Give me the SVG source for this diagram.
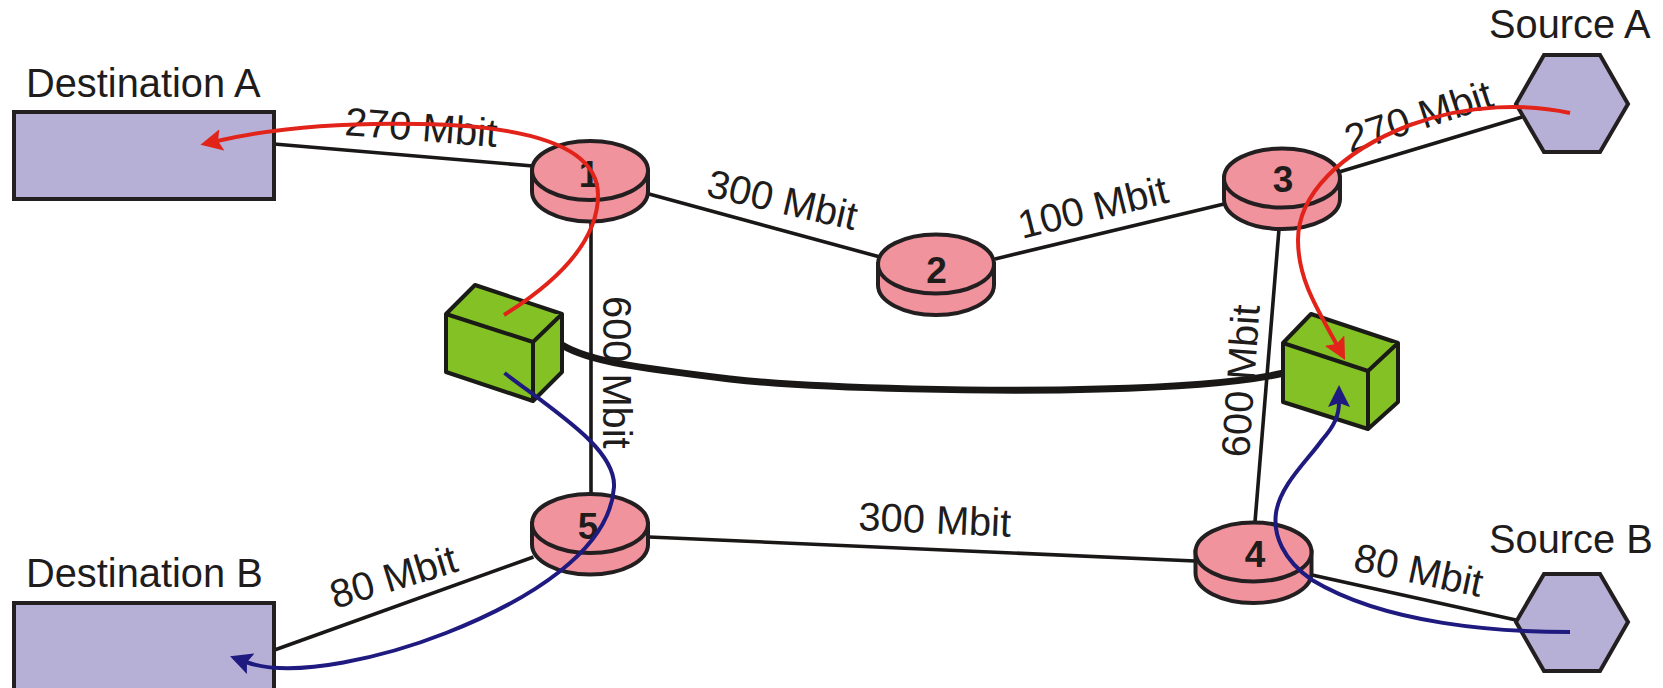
<svg xmlns="http://www.w3.org/2000/svg" width="1663" height="688" viewBox="0 0 1663 688">
<style>
text{font-family:"Liberation Sans",Arial,sans-serif;font-size:39.800px;fill:#1f1c1c}
.num{font-weight:bold;font-size:37px;text-anchor:middle}
.link{fill:none;stroke:#1a1717;stroke-width:3.6}
.shape{fill:#b7b0d6;stroke:#231f20;stroke-width:4;stroke-linejoin:miter}
.disc{fill:#f0939d;stroke:#231f20;stroke-width:4}
.box{fill:#84c125;stroke:#1a1a16;stroke-width:4;stroke-linejoin:round}
.flow{fill:none;stroke-width:4}
</style>
<defs>
<marker id="headRed" markerUnits="userSpaceOnUse" viewBox="0 0 22 22" markerWidth="22" markerHeight="22" refX="5" refY="11" orient="auto"><path d="M0 0L22 11L0 22L4 11Z" fill="#e2231a"/></marker>
<marker id="headBlue" markerUnits="userSpaceOnUse" viewBox="0 0 22 22" markerWidth="22" markerHeight="22" refX="5" refY="11" orient="auto"><path d="M0 0L22 11L0 22L4 11Z" fill="#1f1a80"/></marker>
<g id="discShape"><path class="disc" d="M-58 0V21A58 30 0 0 0 58 21V0Z"/><ellipse class="disc" cx="0" cy="0" rx="58" ry="29.5"/></g>
</defs>

<g id="connectors">
<path class="link" d="M274 144L533 166"/>
<path class="link" d="M649 194L880 257"/>
<path class="link" d="M995 259L1224 204"/>
<path class="link" d="M1339 172L1522 117"/>
<path class="link" d="M1279 229L1255 522"/>
<path class="link" d="M591 222V494"/>
<path class="link" d="M649 537L1195 561"/>
<path class="link" d="M533.500 557L274.500 650"/>
<path class="link" d="M1312 575L1516 620"/>
<path d="M562 345C590 362 640 368 730 379C820 389 1000 392 1100 389C1180 387 1240 383 1284 373" fill="none" stroke="#1a1717" stroke-width="7"/>
</g>

<g id="destA"><rect class="shape" x="14" y="112" width="260" height="87"/><text x="26" y="97">Destination A</text></g>
<g id="destB"><rect class="shape" x="14" y="603" width="260" height="90"/><text x="26" y="587">Destination B</text></g>
<g id="sourceA"><path class="shape" d="M1516 104L1544 55H1600L1628 104L1600 152H1544Z"/><text x="1489" y="38">Source A</text></g>
<g id="sourceB"><path class="shape" d="M1516 622L1544 574H1600L1628 622L1600 671H1544Z"/><text x="1489" y="553">Source B</text></g>
<g id="router1"><use href="#discShape" x="590" y="170.500"/><text class="num" x="589" y="187">1</text></g>
<g id="router2"><use href="#discShape" x="936" y="264"/><text class="num" x="936.500" y="283">2</text></g>
<g id="router3"><use href="#discShape" x="1282" y="178"/><text class="num" x="1283" y="192">3</text></g>
<g id="router4"><use href="#discShape" x="1253.500" y="552"/><text class="num" x="1255" y="567">4</text></g>
<g id="router5"><use href="#discShape" x="590" y="523.500"/><text class="num" x="588" y="539">5</text></g>
<g id="boxLeft"><path class="box" d="M446 314L475 285L562 314V372L533 401L446 372Z"/><path class="box" d="M446 314L533 342L562 314M533 342V401"/></g>
<g id="boxRight"><path class="box" d="M1283 343L1311 314L1398 343V402L1368 429L1283 402Z"/><path class="box" d="M1283 343L1368 371L1398 343M1368 371V429"/></g>

<g id="labels">
<text transform="translate(344 135) rotate(4.500)">270 Mbit</text>
<text transform="translate(705 196) rotate(13)">300 Mbit</text>
<text transform="translate(1022 239) rotate(-14)">100 Mbit</text>
<text transform="translate(1350 153) rotate(-18)">270 Mbit</text>
<text transform="translate(603 296) rotate(90)">600 Mbit</text>
<text transform="translate(1249 458) rotate(-86)">600 Mbit</text>
<text transform="translate(858 530) rotate(2.500)">300 Mbit</text>
<text transform="translate(335 609) rotate(-17)">80 Mbit</text>
<text transform="translate(1352 570) rotate(12)">80 Mbit</text>
</g>

<g id="flows">
<path class="flow" stroke="#e2231a" marker-end="url(#headRed)" d="M504 315C560 280 598 240 598 195C598 150 540 126 420 124C330 122 265 130 217 141"/>
<path class="flow" stroke="#e2231a" marker-end="url(#headRed)" d="M1570 113C1530 104 1470 103 1410 125C1340 152 1298 195 1298 240C1298 280 1318 310 1337 345"/>
<path class="flow" stroke="#1f1a80" marker-end="url(#headBlue)" d="M504.500 373C560 415 616 450 614 487C610 550 530 600 446 633C390 655 295 680 246 662"/>
<path class="flow" stroke="#1f1a80" marker-end="url(#headBlue)" d="M1570 632C1500 632 1387 625 1312 580C1283 560 1273 535 1276 513C1280 485 1308 460 1322 440C1335 425 1339 415 1339 402"/>
</g>
</svg>
